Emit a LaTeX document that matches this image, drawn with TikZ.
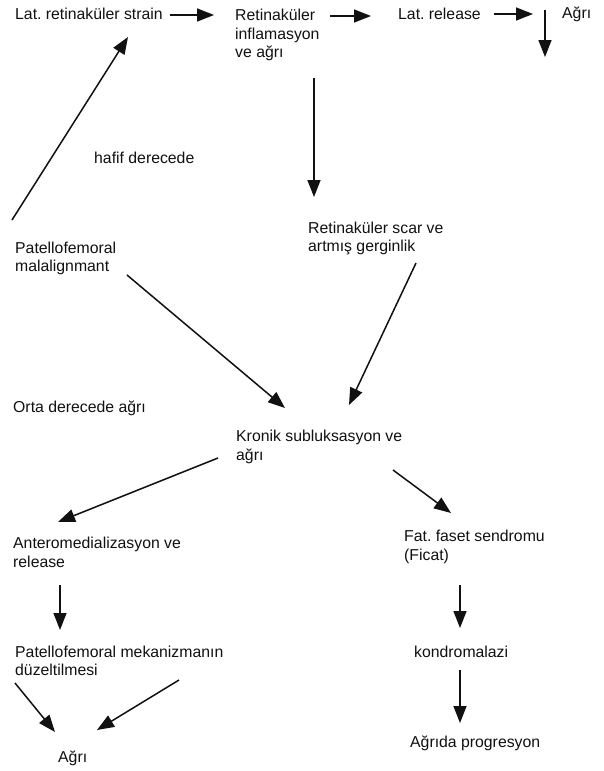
\documentclass[tikz,border=0pt]{standalone}
\usepackage{fontspec}
\setmainfont{Liberation Sans}
\usetikzlibrary{arrows.meta}
\definecolor{ink}{HTML}{111111}
\tikzset{
  txt/.style={anchor=west, inner sep=0pt, align=left, text=ink,
    font=\fontsize{15.8}{18.5}\selectfont},
  arr/.style={draw=ink, line width=1.5pt, -{Triangle[length=17pt,width=13pt]}},
}
\frenchspacing
\begin{document}
\begin{tikzpicture}[x=1pt,y=-1pt]
\useasboundingbox[fill=white] (0,0) rectangle (604,771);
% nodes
\node[txt] (strain) at (15,14) {Lat. retinaküler strain};
\node[txt] (retinf) at (235,35) {Retinaküler\\inflamasyon\\ve ağrı};
\node[txt] (release) at (398,14) {Lat. release};
\node[txt] (agri1) at (562,14) {Ağrı};
\node[txt] (hafif) at (94,158) {hafif derecede};
\node[txt] (scar) at (308,238.5) {Retinaküler scar ve\\artmış gerginlik};
\node[txt] (pf) at (15,258.5) {Patellofemoral\\malalignmant};
\node[txt] (orta) at (13,408) {Orta derecede ağrı};
\node[txt] (kronik) at (236,447) {Kronik subluksasyon ve\\ağrı};
\node[txt] (antero) at (13,552.5) {Anteromedializasyon ve\\release};
\node[txt] (fat) at (404,547) {Fat. faset sendromu\\(Ficat)};
\node[txt] (pfm) at (15,661) {Patellofemoral mekanizmanın\\düzeltilmesi};
\node[txt] (kondro) at (414,652) {kondromalazi};
\node[txt] (agri2) at (58,758) {Ağrı};
\node[txt] (prog) at (410,743) {Ağrıda progresyon};
% connector end points
\coordinate (a1s) at (170,15);  \coordinate (a1e) at (214,15);
\coordinate (a2s) at (330,16);  \coordinate (a2e) at (371,16);
\coordinate (a3s) at (494,14);  \coordinate (a3e) at (533,14);
\coordinate (a4s) at (545,10);  \coordinate (a4e) at (545,57);
\coordinate (a5s) at (12,220);  \coordinate (a5e) at (128,37);
\coordinate (a6s) at (314,78);  \coordinate (a6e) at (314,197);
\coordinate (a7s) at (127,275); \coordinate (a7e) at (285,408);
\coordinate (a8s) at (416,263); \coordinate (a8e) at (349,405);
\coordinate (a9s) at (218,458); \coordinate (a9e) at (58,522);
\coordinate (a10s) at (393,470); \coordinate (a10e) at (451,513);
\coordinate (a11s) at (60,585); \coordinate (a11e) at (60,630);
\coordinate (a12s) at (460,585); \coordinate (a12e) at (460,628);
\coordinate (a13s) at (460,670); \coordinate (a13e) at (460,723);
\coordinate (a14s) at (15,683); \coordinate (a14e) at (55,732);
\coordinate (a15s) at (179,680); \coordinate (a15e) at (97,730);
% connectors
\draw[arr] (a1s) -- (a1e);
\draw[arr] (a2s) -- (a2e);
\draw[arr] (a3s) -- (a3e);
\draw[arr] (a4s) -- (a4e);
\draw[arr] (a5s) -- (a5e);
\draw[arr] (a6s) -- (a6e);
\draw[arr] (a7s) -- (a7e);
\draw[arr] (a8s) -- (a8e);
\draw[arr] (a9s) -- (a9e);
\draw[arr] (a10s) -- (a10e);
\draw[arr] (a11s) -- (a11e);
\draw[arr] (a12s) -- (a12e);
\draw[arr] (a13s) -- (a13e);
\draw[arr] (a14s) -- (a14e);
\draw[arr] (a15s) -- (a15e);
\end{tikzpicture}
\end{document}
